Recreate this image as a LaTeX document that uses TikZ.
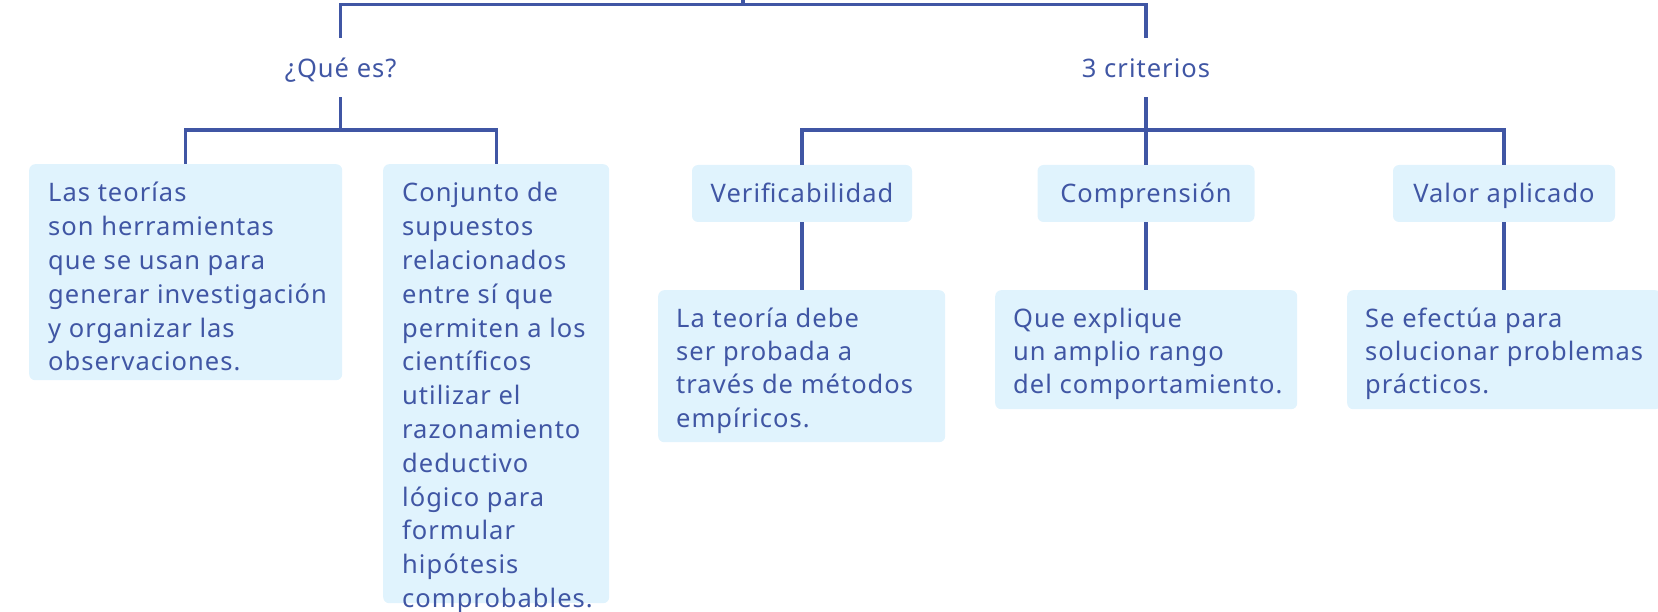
\documentclass[tikz,border=0pt]{standalone}
\usepackage{fontspec}
\setmainfont{Noto Sans}[LetterSpace=4]
\definecolor{ink}{RGB}{64,86,164}
\definecolor{boxfill}{RGB}{224,243,253}
\begin{document}
\begin{tikzpicture}[x=1pt,y=-1pt,
  conn/.style={draw=ink,line width=3.4pt},
  boxbg/.style={fill=boxfill,rounded corners=6pt,draw=none,inner sep=0pt,anchor=north west},
  txtL/.style={text=ink,inner sep=0pt,anchor=north west,align=left,font=\fontsize{25.5}{33.8}\selectfont},
  txtR/.style={text=ink,inner sep=0pt,anchor=north west,align=left,font=\fontsize{25.5}{33.3}\selectfont},
  head/.style={text=ink,inner sep=0pt,anchor=base,font=\fontsize{25.5}{30}\selectfont,text height=40pt,text depth=19pt},
  crit/.style={fill=boxfill,rounded corners=6pt,inner sep=0pt,anchor=center,text=ink,font=\fontsize{25.5}{30}\selectfont,text height=24pt,text depth=5pt,minimum height=57pt}]
\useasboundingbox (0,0) rectangle (1658,612);
\clip (0,0) rectangle (1658,612);
% headings
\node[head] (qes) at (340.7,78) {¿Qué es?};
\node[head] (tres) at (1146,78) {3 criterios};
\coordinate (topj) at (743,4.5);
\coordinate (up) at (743,-20);
% boxes
\node[boxbg,minimum width=313pt,minimum height=216pt] (b1) at (29,164) {};
\node[boxbg,minimum width=226pt,minimum height=439pt] (b2) at (383,164) {};
\node[crit,minimum width=220pt] (v) at (802,193.5) {Verificabilidad};
\node[crit,minimum width=217pt] (c) at (1146,193.5) {Comprensión};
\node[crit,minimum width=222pt] (va) at (1504,193.5) {Valor aplicado};
\node[boxbg,minimum width=287pt,minimum height=152pt] (ba) at (658,290) {};
\node[boxbg,minimum width=302pt,minimum height=119pt] (bb) at (995,290) {};
\node[boxbg,minimum width=314pt,minimum height=119pt] (bc) at (1347,290) {};
% texts
\node[txtL,xshift=19pt,yshift=-14pt] (t1) at (b1.north west) {\strut Las teorías\\son herramientas\\que se usan para\\generar investigación\\y organizar las\\observaciones.};
\node[txtL,xshift=19pt,yshift=-14pt] (t2) at (b2.north west) {\strut Conjunto de\\supuestos\\relacionados\\entre sí que\\permiten a los\\científicos\\utilizar el\\razonamiento\\deductivo\\lógico para\\formular\\hipótesis\\comprobables.};
\node[txtR,xshift=18pt,yshift=-13.7pt] (ta) at (ba.north west) {\strut La teoría debe\\ser probada a\\través de métodos\\empíricos.};
\node[txtR,xshift=18pt,yshift=-13.7pt] (tb) at (bb.north west) {\strut Que explique\\un amplio rango\\del comportamiento.};
\node[txtR,xshift=18pt,yshift=-13.7pt] (tc) at (bc.north west) {\strut Se efectúa para\\solucionar problemas\\prácticos.};
% connectors
\draw[conn] (qes.north) -- (qes.north |- topj) -- (tres.north |- topj) -- (tres.north);
\draw[conn] (topj) -- (up);
\path (qes.south) ++(0,33) coordinate (j1);
\path (tres.south) ++(0,33) coordinate (j2);
\draw[conn] (qes.south) -- (j1);
\draw[conn] (b1.north) |- (j1) -| (b2.north);
\draw[conn] (tres.south) -- (j2);
\draw[conn] (v.north) |- (j2) -| (va.north);
\draw[conn] (j2) -- (c.north);
\draw[conn] (v.south) -- (v.south |- ba.north);
\draw[conn] (c.south) -- (c.south |- bb.north);
\draw[conn] (va.south) -- (va.south |- bc.north);
\end{tikzpicture}
\end{document}
